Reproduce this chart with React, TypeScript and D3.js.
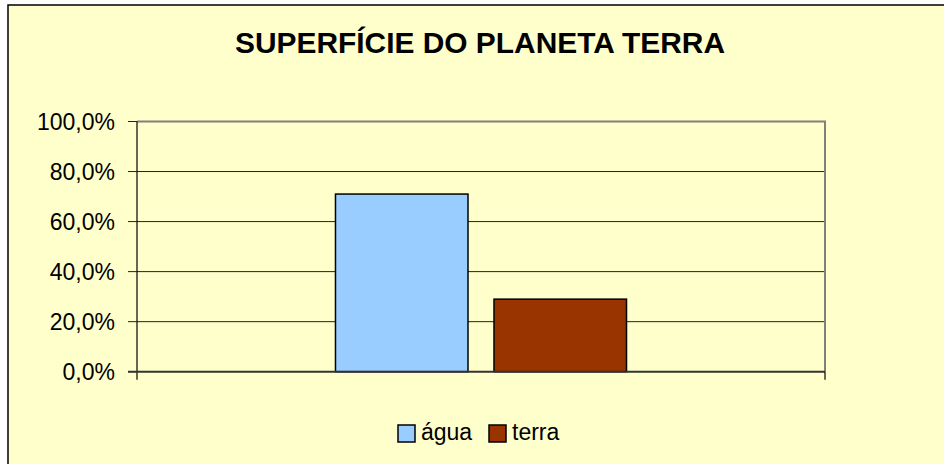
import React from "react";
import * as d3 from "d3";

const categories = [""];
const series = ["água", "terra"];
const values = [0.71, 0.29];
const colors = ["#99CCFF", "#993300"];
const yTicks = [0, 0.2, 0.4, 0.6, 0.8, 1.0];
const title = "SUPERFÍCIE DO PLANETA TERRA";

const fmt = (v: number) => (v * 100).toFixed(1).replace(".", ",") + "%";

export default function App() {
  const W = 944;
  const H = 464;
  const plot = { left: 137, right: 825, top: 121.5, bottom: 371.7 };

  const y = d3.scaleLinear().domain([0, 1]).range([plot.bottom, plot.top]);
  const x0 = d3
    .scaleBand<string>()
    .domain(categories)
    .range([plot.left, plot.right])
    .paddingOuter(0.682)
    .paddingInner(0);
  const x1 = d3
    .scaleBand<string>()
    .domain(series)
    .range([0, x0.bandwidth()])
    .paddingInner(0.164);

  const font = "'Liberation Sans', Arial, sans-serif";

  return (
    <svg
      width={W}
      height={H}
      style={{ position: "absolute", left: 0, top: 0, display: "block" }}
    >
      <rect x={0} y={0} width={W} height={H} fill="#ffffff" />
      <rect x={8} y={5} width={W} height={H} fill="#FFFFCC" stroke="#000" strokeWidth={1.5} />

      <text
        x={480}
        y={53}
        textAnchor="middle"
        fontFamily={font}
        fontWeight="bold"
        fontSize={30}
        textLength={490}
        lengthAdjust="spacingAndGlyphs"
        fill="#000"
      >
        {title}
      </text>

      {/* gridlines */}
      {yTicks.slice(1, -1).map((t) => (
        <line key={t} x1={plot.left} x2={plot.right} y1={y(t)} y2={y(t)} stroke="#222" strokeWidth={1} />
      ))}
      {/* plot border top/right */}
      <path
        d={`M${plot.left},${y(1)}H${plot.right}V${plot.bottom}`}
        fill="none"
        stroke="#808080"
        strokeWidth={2}
      />

      {/* bars */}
      {categories.map((c) =>
        series.map((s, i) => (
          <rect
            key={s}
            x={(x0(c) ?? 0) + (x1(s) ?? 0)}
            y={y(values[i])}
            width={x1.bandwidth()}
            height={y(0) - y(values[i])}
            fill={colors[i]}
            stroke="#000"
            strokeWidth={1.5}
          />
        ))
      )}

      {/* y axis */}
      <line x1={plot.left} x2={plot.left} y1={plot.top} y2={plot.bottom + 8} stroke="#000" strokeWidth={1.2} />
      {yTicks.map((t) => (
        <g key={t}>
          <line x1={plot.left - 9} x2={plot.left} y1={y(t)} y2={y(t)} stroke="#222" strokeWidth={1} />
          <text
            x={115}
            y={y(t)}
            dy="0.36em"
            textAnchor="end"
            fontFamily={font}
            fontSize={23}
            fill="#000"
          >
            {fmt(t)}
          </text>
        </g>
      ))}

      {/* x axis */}
      <line x1={plot.left - 9} x2={plot.right} y1={plot.bottom} y2={plot.bottom} stroke="#333" strokeWidth={2} />
      <line x1={plot.right} x2={plot.right} y1={plot.bottom} y2={plot.bottom + 8} stroke="#000" strokeWidth={1.2} />

      {/* legend */}
      {series.map((s, i) => {
        const lx = [398, 489][i];
        return (
          <g key={s}>
            <rect x={lx} y={425} width={17} height={17} fill={colors[i]} stroke="#000" strokeWidth={1.5} />
            <text x={lx + 23} y={440} fontFamily={font} fontSize={23} fill="#000">
              {s}
            </text>
          </g>
        );
      })}
    </svg>
  );
}
